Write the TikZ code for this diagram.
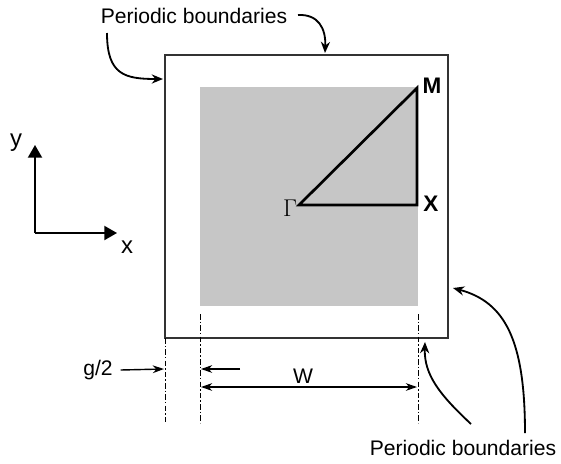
\documentclass[tikz,border=0pt]{standalone}
\usepackage{fontspec}
\setmainfont{Liberation Sans}
\usetikzlibrary{arrows.meta}
\definecolor{cellgray}{HTML}{C6C6C6}
\definecolor{lngray}{HTML}{333333}

\begin{document}
\begin{tikzpicture}[>=Stealth,x=0.025cm,y=-0.025cm,
  font=\fontsize{15}{18}\selectfont,
  bnd/.style={->,line width=1.3pt,>={Stealth[length=8pt,width=6.5pt]}},
  dimline/.style={line width=0.7pt,dash pattern=on 4pt off 1.5pt on 1pt off 1.5pt},
  dimarrow/.style={line width=1pt,>={Stealth[length=8pt,width=5.5pt]}},
  axis/.style={->,line width=1.3pt,>={Triangle[length=9pt,width=10pt]}},
  axlabel/.style={font=\fontsize{17}{20}\selectfont},
  klabel/.style={font=\fontsize{16}{19}\selectfont\bfseries}]

  \useasboundingbox (0,0) rectangle (561,463);

  % --- unit cell ---
  \coordinate (oc1) at (165,55);
  \coordinate (oc2) at (448,338);
  \draw[lngray,line width=1pt] (oc1) rectangle (oc2);
  \fill[cellgray] (200,87) rectangle (418,306);

  % --- irreducible zone ---
  \coordinate (kG) at (299,205);
  \coordinate (kM) at (417,88);
  \coordinate (kX) at (417,205);
  \draw[line width=1.9pt,line join=miter] (kG) -- (kM) -- (kX) -- cycle;
  \node[font=\fontsize{16}{19}\selectfont] (lblG) at (290,208) {$\Gamma$};
  \node[klabel] (lblM) at (432,86) {M};
  \node[klabel] (lblX) at (431,204) {X};

  % --- axes ---
  \coordinate (org) at (35,233);
  \coordinate (yend) at (35,145);
  \coordinate (xend) at (117,233);
  \draw[axis] (org) -- (yend);
  \draw[axis] (org) -- (xend);
  \node[axlabel] (lbly) at (16,143) {y};
  \node[axlabel] (lblx) at (127,247) {x};

  % --- periodic boundaries ---
  \node (lbltop) at (194,16) {Periodic boundaries};
  \node (lblbot) at (463,448) {Periodic boundaries};
  \coordinate (ta0) at (107,33);
  \coordinate (ta1) at (163,79);
  \coordinate (tb0) at (298,15);
  \coordinate (tb1) at (325,53);
  \coordinate (ba0) at (525,433);
  \coordinate (ba1) at (453,288);
  \coordinate (bb0) at (471,424);
  \coordinate (bb1) at (425,342);
  \draw[bnd] (ta0) .. controls (107,75) and (125,79) .. (ta1);
  \draw[bnd] (tb0) .. controls (318,14) and (326,28) .. (tb1);
  \draw[bnd] (ba0) .. controls (525,340) and (505,302) .. (ba1);
  \draw[bnd] (bb0) .. controls (440,395) and (424,375) .. (bb1);

  % --- dimensions ---
  \draw[dimline] (165,338) -- (165,423);
  \draw[dimline] (200,314) -- (200,423);
  \draw[dimline] (418,314) -- (418,423);
  \node (lblg) at (98,370) {g/2};
  \coordinate (gtip) at (164,369);
  \coordinate (w0) at (240,369);
  \coordinate (wtip) at (201,369);
  \draw[dimarrow,->] (lblg.east) ++(3,0) -- (gtip);
  \draw[dimarrow,->] (w0) -- (wtip);
  \node (lblw) at (303,376) {W};
  \coordinate (wl) at (201,387);
  \coordinate (wr) at (417,387);
  \draw[dimarrow,<->] (wl) -- (wr);

\end{tikzpicture}
\end{document}
